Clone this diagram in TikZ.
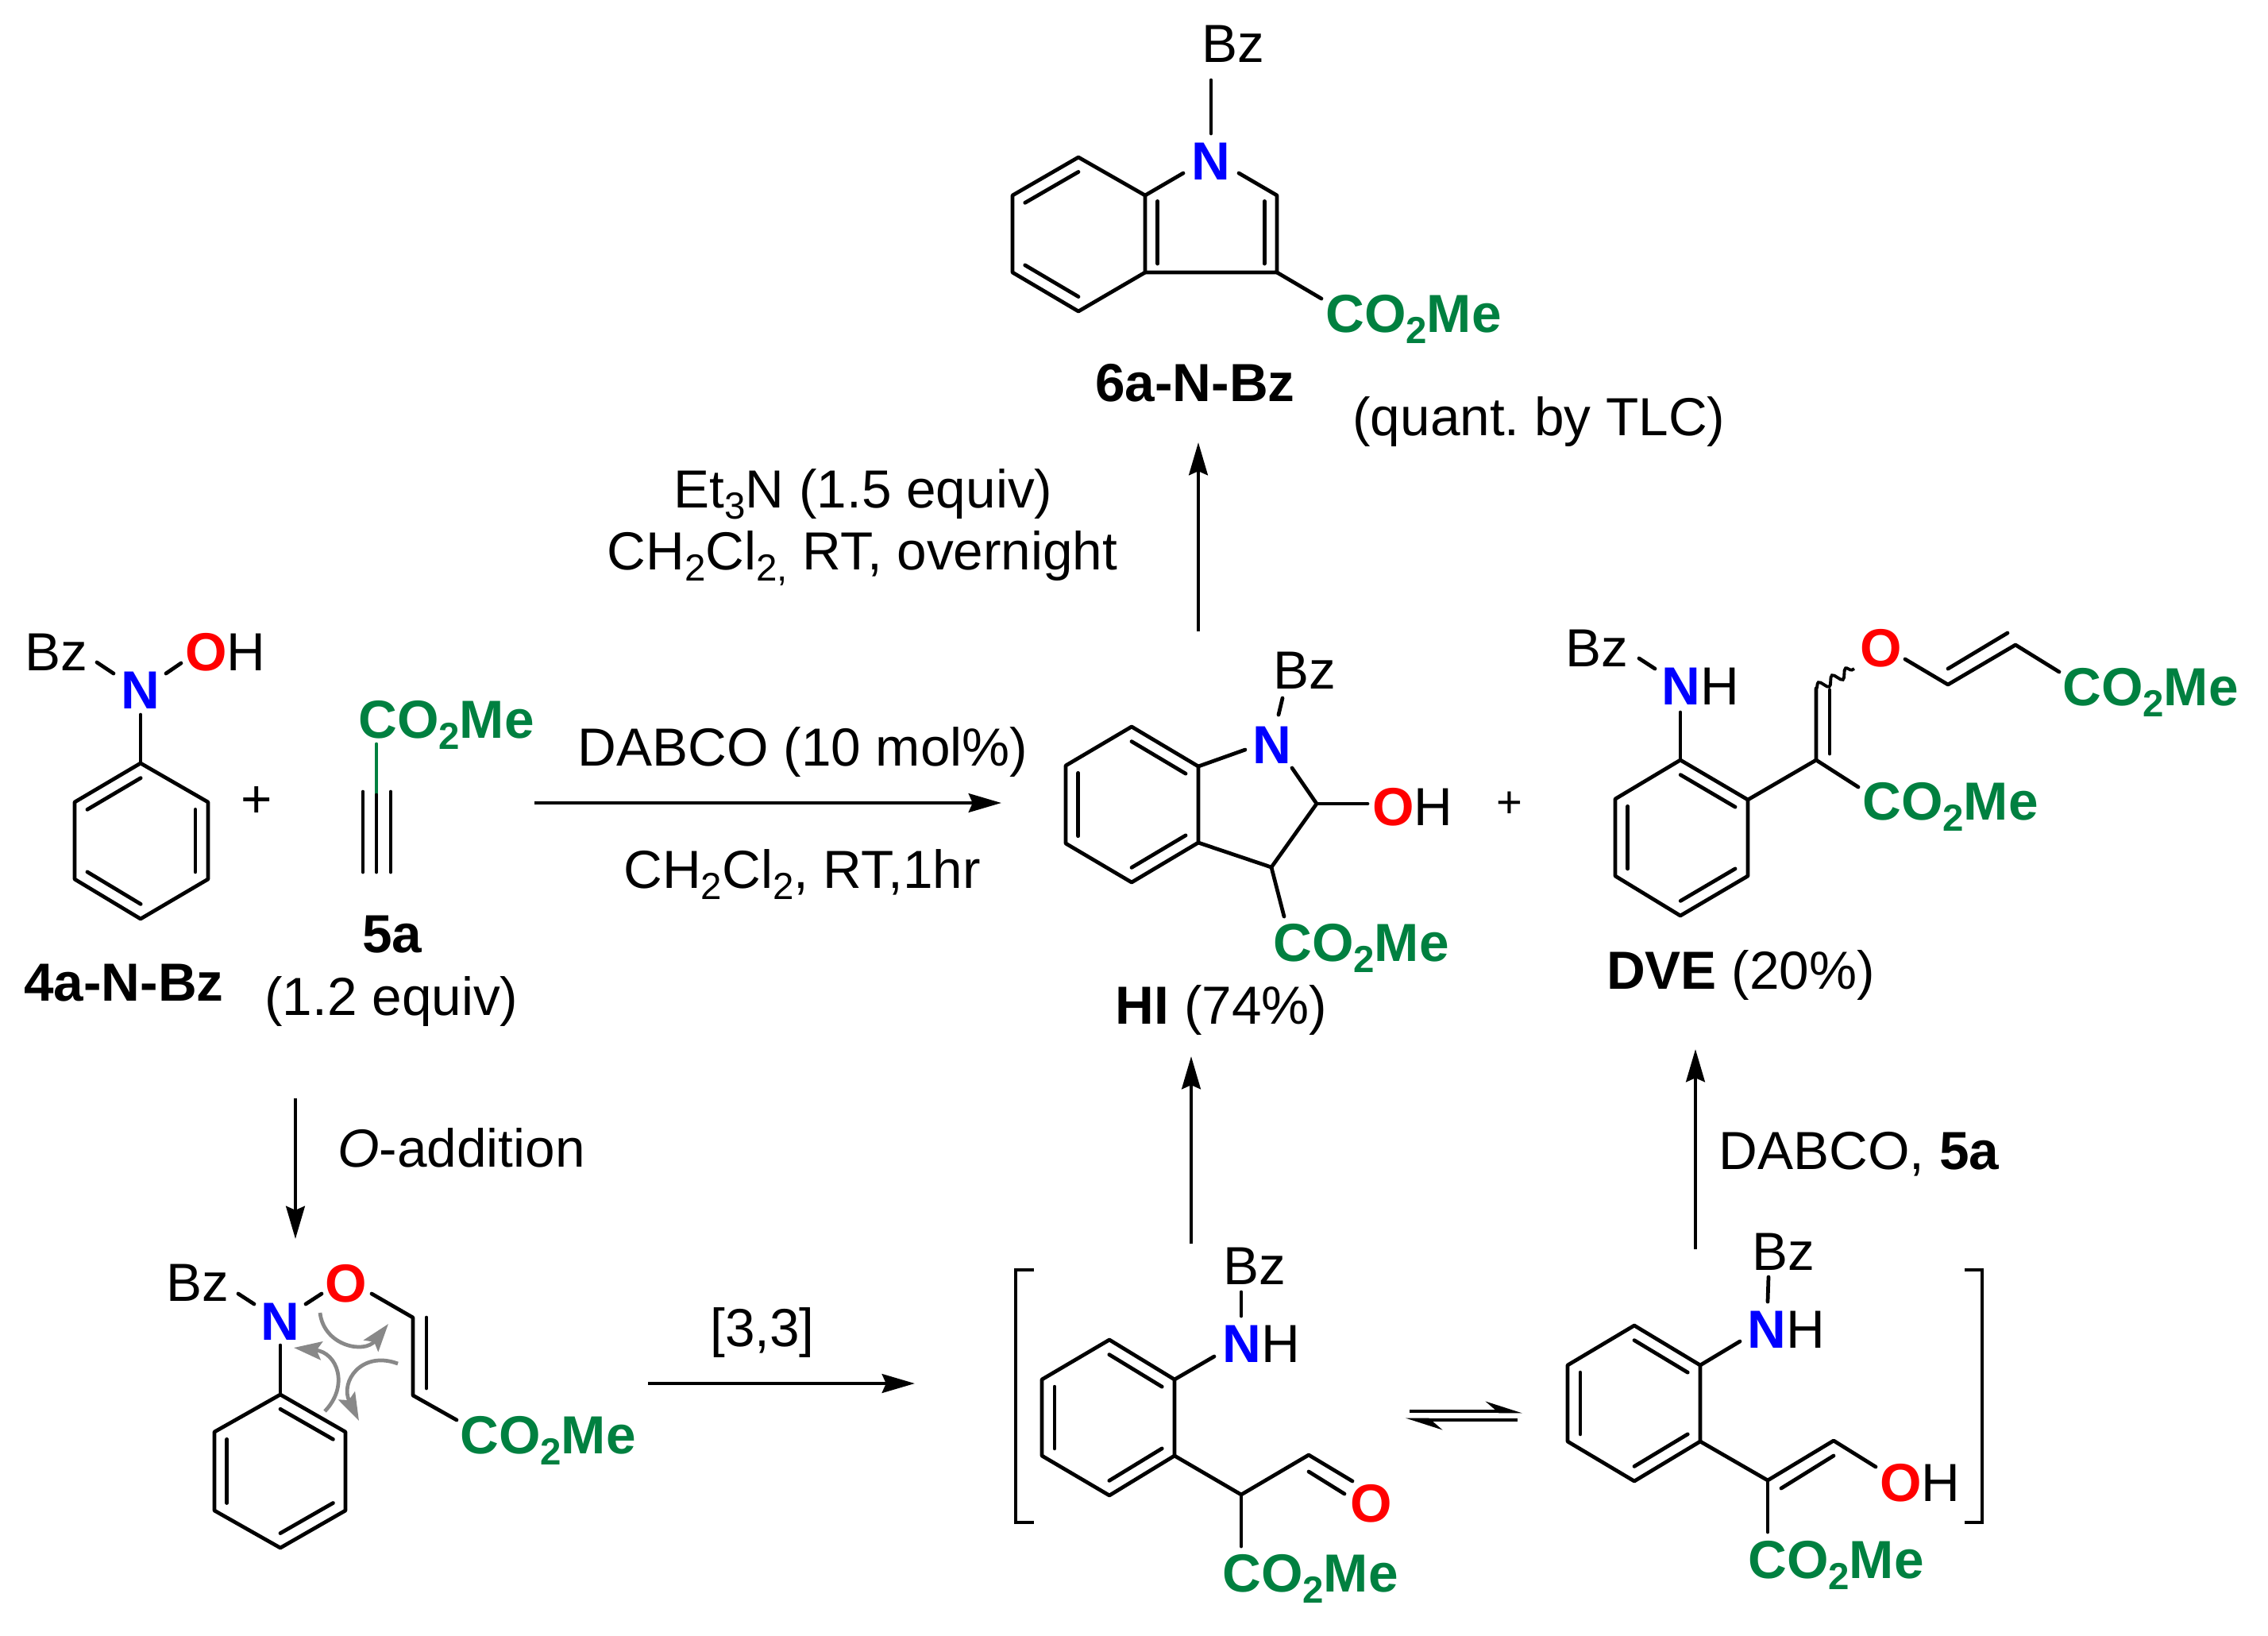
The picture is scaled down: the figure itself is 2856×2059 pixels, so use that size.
\documentclass[tikz,border=0pt]{standalone}
\usepackage{fontspec}
\setmainfont{Liberation Sans}
\usepackage{tikz}
\usetikzlibrary{arrows.meta}
\usetikzlibrary{calc}
\usetikzlibrary{decorations.pathmorphing}
\definecolor{estergreen}{RGB}{0,128,64}
\definecolor{curlgray}{RGB}{136,136,136}
\newcommand{\chemsub}[1]{\raisebox{-0.22em}{\fontsize{13.5}{15}\selectfont #1}}
\newcommand{\estertext}{CO\chemsub{2}Me}
\newcommand{\dblinner}[3]{\draw[bond] ($(#1)!0.19!(#3)$) -- ($(#2)!0.19!(#3)$);}

\begin{document}
\frenchspacing
\begin{tikzpicture}[x=0.01cm,y=-0.01cm,>={Stealth[length=11.7pt,width=6.7pt,inset=1.4pt]},
	bond/.style={line width=1.35pt,line cap=round,line join=round},
	rxn/.style={->,line width=1.35pt},
	curl/.style={->,>={Stealth[length=10pt,width=6.6pt,inset=1.8pt]},line width=1.35pt,curlgray},
	equil/.style={->,>={Stealth[harpoon,length=11pt,width=7pt,inset=4pt]},line width=1.35pt},
	txt/.style={anchor=base,inner sep=0pt,font=\fontsize{19.2}{22}\selectfont},
	bold/.style={txt,font=\fontsize{19.2}{22}\selectfont\bfseries},
	ester/.style={bold,text=estergreen},
	natom/.style={bold,text=blue},
	oatom/.style={bold,text=red}]

	\useasboundingbox (0,0) rectangle (2856,2059);

	% starting materials
	\node[txt] (bz1) at (71,844) {Bz};
	\node[natom] (n1) at (177,892) {N};
	\node[txt] (oh1) at (284,844) {\textcolor{red}{\bfseries O}H};
	\foreach \n/\x/\y in {b1a/122/834,b1b/143/848,b1c/209/848,b1d/228/835,b1e/177/900,
		a1/177/961,a2/262/1010,a3/262/1107,a4/177/1157,a5/94/1107,a6/94/1010,ac/178/1059}
		\coordinate (\n) at (\x,\y);
	\draw[bond] (a1) -- (a2) -- (a3) -- (a4) -- (a5) -- (a6) -- cycle;
	\dblinner{a6}{a1}{ac}
	\dblinner{a2}{a3}{ac}
	\dblinner{a4}{a5}{ac}
	\foreach \a/\b in {b1a/b1b,b1c/b1d,b1e/a1}
		\draw[bond] (\a) -- (\b);
	\node[txt,anchor=center] (plus1) at (323,1010) {+};

	\node[ester] (est5) at (562,929) {\estertext};
	\foreach \n/\x/\y in {y0/474/937,y1/474/1001,y2/474/1098,y3/457/997,y4/457/1098,y5/492/997,y6/492/1098}
		\coordinate (\n) at (\x,\y);
	\draw[bond,estergreen] (y0) -- (y1);
	\foreach \a/\b in {y1/y2,y3/y4,y5/y6}
		\draw[bond] (\a) -- (\b);
	\node[bold] (lab5) at (494,1199) {5a};
	\node[txt] (eq5) at (493,1278) {(1.2 equiv)};
	\node[bold] (lab4) at (156,1260) {4a-N-Bz};

	% reaction arrows
	\foreach \n/\x/\y in {r1/673/1011,r2/1261/1011,r3/1509/795,r4/1509/557,r5/372/1383,r6/372/1560,
		r7/816/1742,r8/1152/1742,r9/1500/1566,r10/1500/1330,r11/2135/1573,r12/2135/1321}
		\coordinate (\n) at (\x,\y);
	\foreach \a/\b in {r1/r2,r3/r4,r5/r6,r7/r8,r9/r10,r11/r12}
		\draw[rxn] (\a) -- (\b);
	\node[txt] (cond1) at (1011,964) {DABCO (10 mol\%)};
	\node[txt] (cond2) at (1010,1118) {CH\chemsub{2}Cl\chemsub{2}, RT,1hr};
	\node[txt] (cond3) at (1087,639) {Et\chemsub{3}N (1.5 equiv)};
	\node[txt] (cond4) at (1086,717) {CH\chemsub{2}Cl\chemsub{2,} RT, overnight};
	\node[txt] (cond5) at (581,1469) {\textit{O}-addition};
	\node[txt] (cond6) at (960,1695) {[3,3]};
	\node[txt] (cond7) at (2341,1472) {DABCO, \textbf{5a}};

	% indole product
	\node[txt] (bz6) at (1553,78) {Bz};
	\node[natom] (n6) at (1525,226) {N};
	\foreach \n/\x/\y in {b6a/1525/101,b6b/1525/168,b6c/1490/218,b6d/1560/218,b6e/1664/376,
		c1/1442/246,c2/1358/198,c3/1275/246,c4/1275/343,c5/1358/392,c6/1442/343,cc/1358/295,
		c7/1608/246,c8/1608/343,dc/1525/285}
		\coordinate (\n) at (\x,\y);
	\draw[bond] (c1) -- (c2) -- (c3) -- (c4) -- (c5) -- (c6) -- cycle;
	\draw[bond] (b6c) -- (c1);
	\draw[bond] (b6d) -- (c7) -- (c8) -- (c6);
	\draw[bond] (b6a) -- (b6b);
	\draw[bond] (c8) -- (b6e);
	\dblinner{c2}{c3}{cc}
	\dblinner{c4}{c5}{cc}
	\dblinner{c1}{c6}{dc}
	\dblinner{c7}{c8}{dc}
	\node[ester] (est6) at (1780,418) {\estertext};
	\node[bold] (lab6) at (1505,505) {6a-N-Bz};
	\node[txt] (yield6) at (1938,548) {(quant. by TLC)};

	% hemiaminal
	\node[txt] (bzh) at (1643,867) {Bz};
	\node[natom] (nh) at (1602,961) {N};
	\node[txt] (ohh) at (1779,1039) {\textcolor{red}{\bfseries O}H};
	\foreach \n/\x/\y in {bha/1615/879,bhb/1610/900,bhc/1568/944,bhd/1627/967,bhe/1722/1012,bhf/1617/1154,
		h1/1425/915,h2/1509/965,h3/1509/1061,h4/1425/1111,h5/1342/1062,h6/1342/964,hc/1425/1013,
		h7/1658/1012,h8/1601/1092}
		\coordinate (\n) at (\x,\y);
	\draw[bond] (h1) -- (h2) -- (h3) -- (h4) -- (h5) -- (h6) -- cycle;
	\dblinner{h1}{h2}{hc}
	\dblinner{h3}{h4}{hc}
	\dblinner{h5}{h6}{hc}
	\draw[bond] (h2) -- (bhc);
	\draw[bond] (bhd) -- (h7) -- (h8) -- (h3);
	\draw[bond] (h7) -- (bhe);
	\draw[bond] (h8) -- (bhf);
	\draw[bond] (bha) -- (bhb);
	\node[ester] (esth) at (1714,1210) {\estertext};
	\node[txt] (labh) at (1538,1289) {\textbf{HI} (74\%)};
	\node[txt,anchor=center,font=\fontsize{16}{18}\selectfont] (plus2) at (1901,1013) {+};

	% divinyl ether
	\node[txt] (bzd) at (2011,839) {Bz};
	\node[txt] (nhd) at (2141,887) {\textcolor{blue}{\bfseries N}H};
	\node[oatom] (od) at (2369,839) {O};
	\foreach \n/\x/\y in {bda/2064/829,bdb/2084/842,bdc/2116/897,bdd/2340/991,bde/2335/842,bdf/2399/830,bdg/2593/846,
		d1/2116/957,d2/2201/1007,d3/2201/1103,d4/2116/1153,d5/2034/1103,d6/2034/1006,dcc/2117/1055,
		d7/2287/957,d8/2287/867,d9/2304/869,d10/2304/949,d11/2453/862,d12/2538/812,d13/2453/842,d14/2528/797}
		\coordinate (\n) at (\x,\y);
	\draw[bond] (d1) -- (d2) -- (d3) -- (d4) -- (d5) -- (d6) -- cycle;
	\dblinner{d1}{d2}{dcc}
	\dblinner{d3}{d4}{dcc}
	\dblinner{d5}{d6}{dcc}
	\draw[bond] (bda) -- (bdb);
	\draw[bond] (bdc) -- (d1);
	\draw[bond] (d2) -- (d7) -- (d8);
	\draw[bond] (d7) -- (bdd);
	\draw[bond] (d9) -- (d10);
	\draw[line width=1.1pt,decorate,decoration={snake,segment length=5.5pt,amplitude=1.6pt}] (d8) -- (bde);
	\draw[bond] (bdf) -- (d11) -- (d12) -- (bdg);
	\draw[bond] (d13) -- (d14);
	\node[ester] (estd1) at (2708,888) {\estertext};
	\node[ester] (estd2) at (2456,1032) {\estertext};
	\node[txt] (labd) at (2192,1245) {\textbf{DVE} (20\%)};

	% O-vinyl intermediate
	\node[txt] (bzv) at (249,1638) {Bz};
	\node[natom] (nv) at (353,1687) {N};
	\node[oatom] (ov) at (436,1639) {O};
	\foreach \n/\x/\y in {bva/300/1629,bvb/320/1642,bvc/385/1642,bvd/405/1629,bve/468/1629,bvf/353/1694,bvg/575/1788,
		v1/353/1756,v2/435/1803,v3/435/1902,v4/353/1949,v5/270/1902,v6/270/1803,vc/353/1852,
		v7/520/1659,v8/520/1757,v9/537/1659,v10/537/1748}
		\coordinate (\n) at (\x,\y);
	\draw[bond] (v1) -- (v2) -- (v3) -- (v4) -- (v5) -- (v6) -- cycle;
	\dblinner{v1}{v2}{vc}
	\dblinner{v3}{v4}{vc}
	\dblinner{v5}{v6}{vc}
	\foreach \a/\b in {bva/bvb,bvc/bvd,bvf/v1,v9/v10}
		\draw[bond] (\a) -- (\b);
	\draw[bond] (bve) -- (v7) -- (v8) -- (bvg);
	\node[ester] (estv) at (690,1830) {\estertext};
	% curly arrows
	\foreach \n/\x/\y in {k1/403/1653,k2/489/1667,k3/409/1777,k4/370/1697,k5/501/1717,k6/452/1789}
		\coordinate (\n) at (\x,\y);
	\draw[curl] (k1) .. controls (408,1695) and (459,1705) .. (k2);
	\draw[curl] (k3) .. controls (440,1745) and (425,1703) .. (k4);
	\draw[curl] (k5) .. controls (455,1700) and (428,1740) .. (k6);

	% bracketed intermediates
	\foreach \n/\x/\y in {s1/1302/1599,s2/1279/1599,s3/1279/1917,s4/1302/1917,s5/2474/1599,s6/2496/1599,s7/2496/1917,s8/2474/1917}
		\coordinate (\n) at (\x,\y);
	\draw[line width=1.35pt] (s1) -- (s2) -- (s3) -- (s4);
	\draw[line width=1.35pt] (s5) -- (s6) -- (s7) -- (s8);

	\node[txt] (bzl) at (1580,1617) {Bz};
	\node[txt] (nhl) at (1588,1715) {\textcolor{blue}{\bfseries N}H};
	\node[oatom] (ol) at (1727,1916) {O};
	\foreach \n/\x/\y in {bla/1563/1627,blb/1563/1657,blc/1529/1708,bld/1703/1865,ble/1693/1881,blf/1563/1947,
		l1/1397/1687,l2/1479/1737,l3/1479/1833,l4/1397/1883,l5/1312/1833,l6/1312/1737,lc/1396/1785,
		l7/1563/1882,l8/1648/1832,l9/1648/1853}
		\coordinate (\n) at (\x,\y);
	\draw[bond] (l1) -- (l2) -- (l3) -- (l4) -- (l5) -- (l6) -- cycle;
	\dblinner{l1}{l2}{lc}
	\dblinner{l3}{l4}{lc}
	\dblinner{l5}{l6}{lc}
	\foreach \a/\b in {bla/blb,blc/l2,l7/blf,l9/ble}
		\draw[bond] (\a) -- (\b);
	\draw[bond] (l3) -- (l7) -- (l8) -- (bld);
	\node[ester] (estl) at (1650,2004) {\estertext};

	% equilibrium
	\foreach \n/\x/\y in {q1/1775/1777,q2/1917/1777,q3/1911/1788,q4/1770/1788}
		\coordinate (\n) at (\x,\y);
	\draw[equil] (q1) -- (q2);
	\draw[equil] (q3) -- (q4);

	\node[txt] (bzr) at (2246,1599) {Bz};
	\node[txt] (nhr) at (2249,1697) {\textcolor{blue}{\bfseries N}H};
	\node[txt] (ohr) at (2418,1890) {\textcolor{red}{\bfseries O}H};
	\foreach \n/\x/\y in {bra/2227/1608,brb/2226/1639,brc/2191/1689,brd/2362/1847,bre/2226/1929,
		e1/2058/1669,e2/2141/1719,e3/2141/1815,e4/2058/1865,e5/1974/1815,e6/1974/1719,ec/2058/1767,
		e7/2226/1864,e8/2309/1814,e9/2243/1874,e10/2309/1833}
		\coordinate (\n) at (\x,\y);
	\draw[bond] (e1) -- (e2) -- (e3) -- (e4) -- (e5) -- (e6) -- cycle;
	\dblinner{e1}{e2}{ec}
	\dblinner{e3}{e4}{ec}
	\dblinner{e5}{e6}{ec}
	\foreach \a/\b in {bra/brb,brc/e2,e7/bre,e9/e10}
		\draw[bond] (\a) -- (\b);
	\draw[bond] (e3) -- (e7) -- (e8) -- (brd);
	\node[ester] (estr) at (2312,1987) {\estertext};

\end{tikzpicture}
\end{document}
